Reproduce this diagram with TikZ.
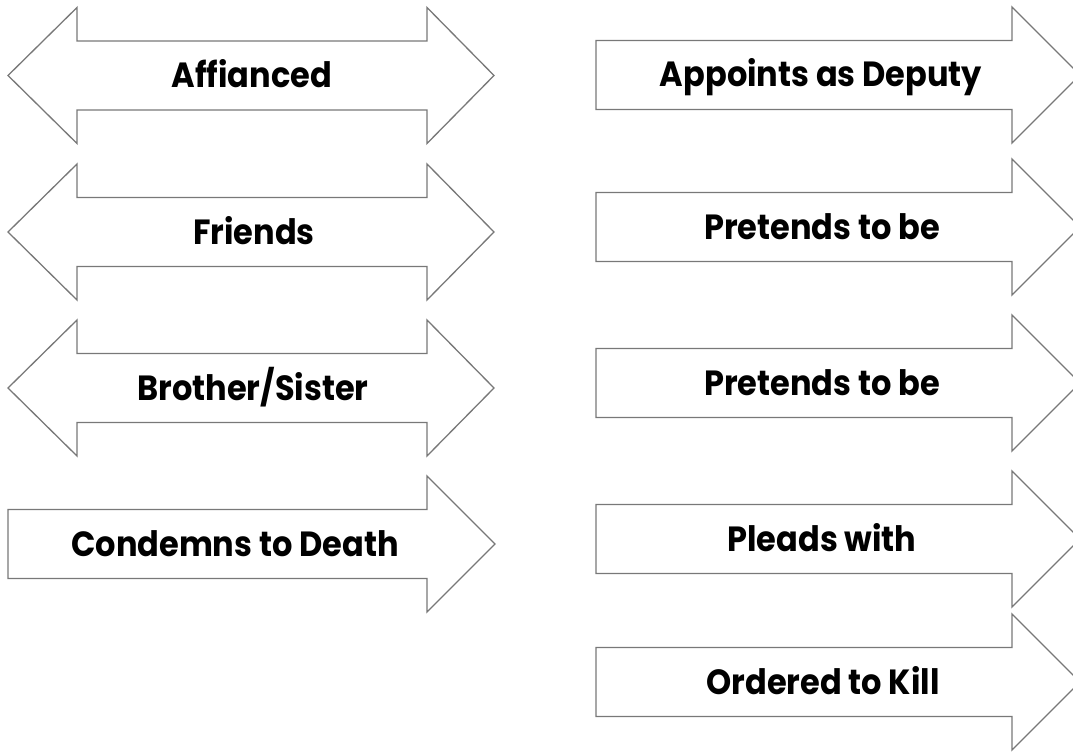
\documentclass[tikz,border=0pt]{standalone}
\usepackage{fontspec}
\setmainfont{Poppins}
\newfontfamily\arrowfont{Poppins}[FakeStretch=0.915]
\definecolor{edgegray}{RGB}{120,120,120}
\tikzset{
  arrowbox/.style={draw=edgegray, line width=1.3pt, fill=white, line join=miter},
  arrowtext/.style={font=\arrowfont\fontsize{35}{40}\selectfont\bfseries, text=black,
    inner sep=0pt, anchor=base},
}
% double arrow across the left column, centred at height #1
\newcommand{\twoway}[1]{
  \draw[arrowbox] (8,#1) -- (77,#1-68) -- (77,#1-34.5) -- (427,#1-34.5)
    -- (427,#1-68) -- (494,#1) -- (427,#1+68) -- (427,#1+34.5)
    -- (77,#1+34.5) -- (77,#1+68) -- cycle;
}
% single arrow pointing right: left end #1, head base #2, centre height #3
\newcommand{\oneway}[3]{
  \draw[arrowbox] (#1,#3-34.5) -- (#2,#3-34.5) -- (#2,#3-68) -- (#2+68,#3)
    -- (#2,#3+68) -- (#2,#3+34.5) -- (#1,#3+34.5) -- cycle;
}

\begin{document}
\begin{tikzpicture}[x=1pt, y=-1pt]

  \useasboundingbox (0,0) rectangle (1073,754);
  \clip (0,0) rectangle (1073,754);

  % Left column: double arrows
  \foreach \y in {75.5, 232, 388} {
    \twoway{\y}
  }
  \oneway{8}{427}{544}

  % Right column: single arrows
  \foreach \y in {75, 227, 383, 539, 682} {
    \oneway{596}{1012}{\y}
  }

  % Labels (baselines sit half a cap height below the centre line)
  \node[arrowtext] (affianced) at (252,88) {Affianced};
  \node[arrowtext] (friends) at (254,244.5) {Friends};
  \node[arrowtext] (sibling) at (253,400.5) {Brother/Sister};
  \node[arrowtext] (condemns) at (235,556.5) {Condemns to Death};

  \node[arrowtext] (deputy) at (821,87) {Appoints as Deputy};
  \node[arrowtext] (pretendsA) at (822,239) {Pretends to be};
  \node[arrowtext] (pretendsB) at (822,395) {Pretends to be};
  \node[arrowtext] (pleads) at (822,551.5) {Pleads with};
  \node[arrowtext] (ordered) at (823,694.5) {Ordered to Kill};

\end{tikzpicture}
\end{document}
